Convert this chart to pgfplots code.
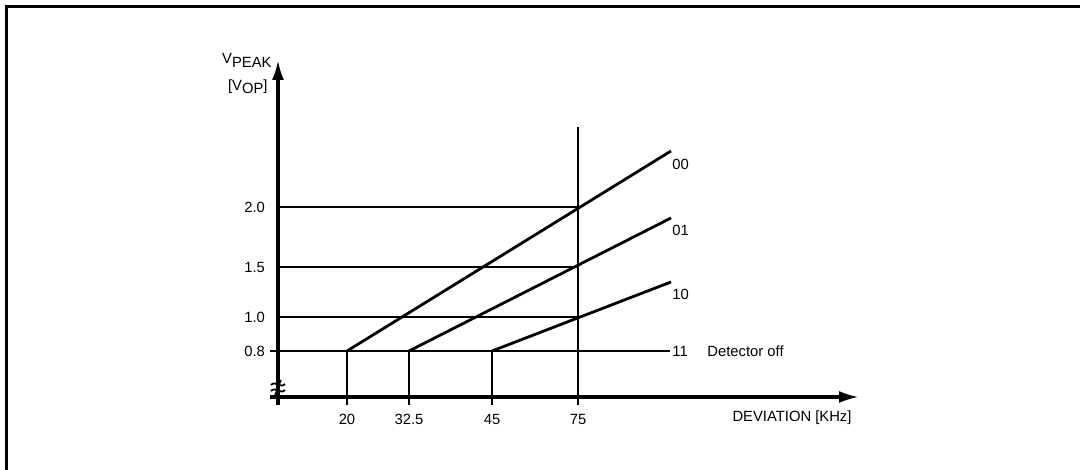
\documentclass[border=0pt]{standalone}
\usepackage{fontspec}
\setmainfont{Liberation Sans}
\usepackage{pgfplots}
\pgfplotsset{compat=1.18}
\usetikzlibrary{arrows.meta}

\newcommand{\lo}[1]{\raisebox{-0.45ex}{#1}}

\begin{document}
\begin{tikzpicture}[font=\fontsize{7.4}{9}\selectfont]
\begin{axis}[
  x=0.5pt, y=0.5pt,
  xmin=-8, xmax=581, ymin=-8, ymax=337,
  axis lines=middle,
  axis line style={line width=1.6pt},
  inner axis line style={-{Latex[length=10pt,width=6pt]}},
  xtick={69,131,214,300}, xticklabels={20,32.5,45,75},
  ytick={46,80,130,190}, yticklabels={0.8,1.0,1.5,2.0},
  major tick length=0pt,
  tick label style={font=\fontsize{7.4}{9}\selectfont},
  xticklabel style={yshift=-5pt},
  yticklabel style={xshift=-3pt},
  clip=false,
  cycle list={{black, solid, mark=none}},
  every axis plot/.append style={line width=1.4pt},
]
% horizontal levels
\addplot coordinates {(-8,46) (392,46)};
\addplot coordinates {(0,80) (300,80)};
\addplot coordinates {(0,130) (300,130)};
\addplot coordinates {(0,190) (300,190)};
% verticals
\addplot coordinates {(300,-8) (300,270)};
\addplot coordinates {(69,-8) (69,46)};
\addplot coordinates {(131,-8) (131,46)};
\addplot coordinates {(214,-8) (214,46)};
% slopes
\addplot coordinates {(69,46) (393,246)};
\addplot coordinates {(131,46) (393,179)};
\addplot coordinates {(214,46) (393,115)};

\node[anchor=west, inner sep=0] at (axis cs:394,233) {00};
\node[anchor=west, inner sep=0] at (axis cs:394,167) {01};
\node[anchor=west, inner sep=0] at (axis cs:394,103) {10};
\node[anchor=west, inner sep=0] at (axis cs:394,46) {11};
\node[anchor=west, inner sep=0] at (axis cs:429,46) {Detector off};
\node[inner sep=0] at (axis cs:514,-21) {DEVIATION [KHz]};
\node[anchor=north east, inner sep=0] at (axis cs:-6,344) {V\lo{PEAK}};
\node[anchor=north east, inner sep=0] at (axis cs:-10,318) {[V\lo{OP}]};

% axis break mark
\draw[line width=0.9pt] (axis cs:-7,12) .. controls (axis cs:-2,17) and (axis cs:2,8) .. (axis cs:7,13);
\draw[line width=0.9pt] (axis cs:-7,6) .. controls (axis cs:-2,11) and (axis cs:2,2) .. (axis cs:7,7);
\draw[line width=0.7pt] (axis cs:-3,2) -- (axis cs:3,17);

% frame
\draw[line width=1.2pt] (axis cs:-271.3,-80) -- (axis cs:-271.3,390.3) -- (axis cs:810,390.3);

\coordinate (bbSW) at (axis cs:-278,-73);
\coordinate (bbNE) at (axis cs:802,397);
\end{axis}
\pgfresetboundingbox
\useasboundingbox (bbSW) rectangle (bbNE);
\end{tikzpicture}
\end{document}
